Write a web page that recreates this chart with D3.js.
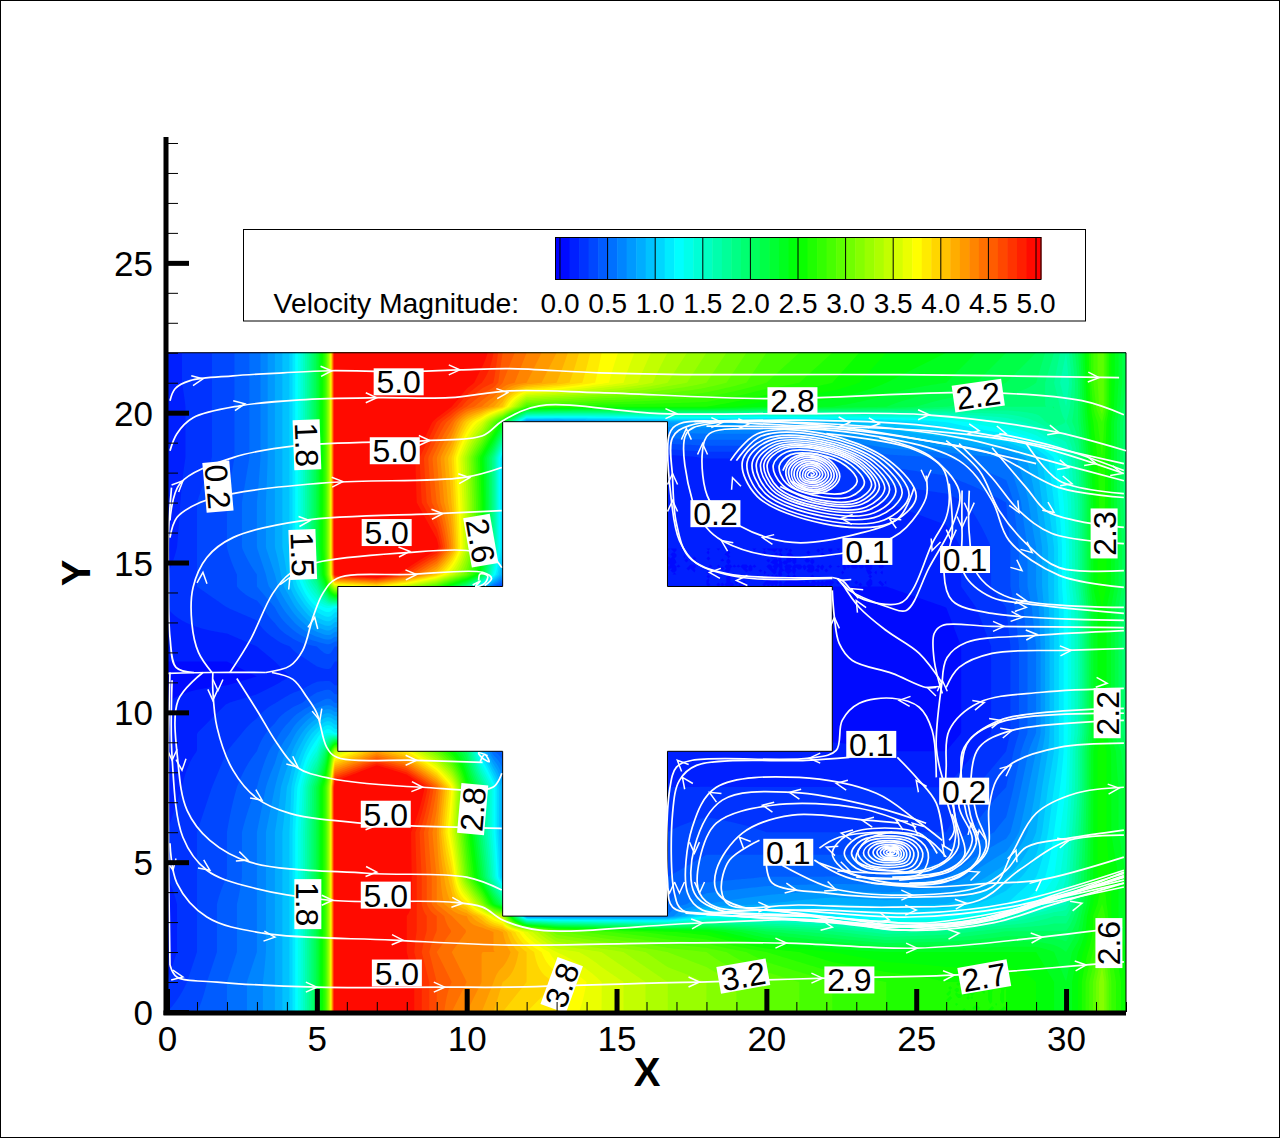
<!DOCTYPE html>
<html><head><meta charset="utf-8">
<script src="https://cdn.jsdelivr.net/npm/d3@7/dist/d3.min.js"></script>
<style>html,body{margin:0;padding:0;background:#fff}svg{display:block}text{font-family:"Liberation Sans",Arial,sans-serif;fill:#000}</style>
</head><body><svg id="c" width="1280" height="1138"></svg>
<script>
// ---------- data (data units: X, Y, velocity magnitude) ----------
const xTicks=[0,5,10,15,20,25,30];
const yTicks=[0,5,10,15,20,25];
const xMinor=d3.range(0,33).filter(v=>v%5);
const yMinor=d3.range(0,30).filter(v=>v%5);
const legendTicks=["0.0","0.5","1.0","1.5","2.0","2.5","3.0","3.5","4.0","4.5","5.0"];
const colorStops=[0,1.25,2.5,3.75,5];
const colorNames=["#0000ff","#00ffff","#00ff00","#ffff00","#ff0000"];
const fieldX=[0,1,2,3,3.6,4.1,4.5,5,5.3,5.45,5.6, 7,8,9,9.5,10,10.5,10.9,11.2, 12,13,14.5, 16.7,18,20,22.2,24,26,28,29,29.6,30,30.4,30.9,31.2,31.5,32];
const fieldY=[0,1,2,2.7,3.2,3.6,4.5,6,7.5,8.7,9.3,10.3,11.2,12.2,13.5,14.2,14.6,15.5,17,18.5,19.7,20.2,21,22];
const speed=[
[.3,.4,.5,.65,.8,1,1.45,2.15,2.8,3.5,5.2, 5.6,5,4.6,4.4,4.3,4.2,4.1,4, 3.9,3.8,3.6, 3.3,3.2,3,2.8,2.7,2.6,2.6,2.5,2.4,2.3,2.5,2.9,3.2,2.8,2.5],
[.2,.35,.5,.65,.8,1,1.45,2.15,2.8,3.5,5.2, 5.5,5,4.6,4.5,4.4,4.3,4.2,4.1, 4,3.9,3.6, 3.3,3.2,3,2.8,2.7,2.6,2.6,2.5,2.4,2.3,2.5,2.9,3.2,2.8,2.5],
[.15,.3,.45,.6,.8,1,1.45,2.15,2.8,3.5,5.2, 5.4,4.9,4.5,4.4,4.3,4.3,4.3,4.3, 4,3.6,3.4, 3.1,3,2.7,2.5,2.4,2.4,2.4,2.4,2.3,2.2,2.4,2.7,3,2.7,2.4],
[.15,.3,.45,.6,.8,1,1.45,2.15,2.8,3.5,5.2, 5.3,4.9,4.6,4.5,4.4,4.4,4.3,4.2, 3.6,3,2.8, 2.6,2.5,2.1,1.9,1.7,1.8,2,2,2,2,2.2,2.6,2.9,2.6,2.3],
[.15,.3,.45,.6,.8,1,1.45,2.15,2.8,3.5,5.2, 5.3,4.9,4.6,4.4,4.3,4,3.6,3.4, .6,.6,.6, .6,1.2,1.3,1.2,1.15,1.2,1.5,1.7,1.8,1.8,2.1,2.6,2.8,2.5,2.3],
[.15,.3,.45,.6,.8,1,1.45,2.15,2.8,3.5,5.2, 5.6,5,4.4,4.2,3.9,3.2,2.4,2, 2,2,.5, .5,.7,.8,.9,.85,.9,1.1,1.3,1.5,1.6,2,2.5,2.7,2.5,2.3],
[.2,.3,.4,.6,.8,1,1.45,2.15,2.8,3.5,5.2, 6,5,4.4,4,3,2.2,1.5,.9, .9,.9,.4, .4,.45,.5,.5,.5,.6,.9,1.1,1.3,1.5,1.9,2.4,2.6,2.5,2.3],
[.2,.3,.4,.6,.8,1,1.45,2.15,2.8,3.5,5.2, 5.7,5,4.3,3.6,2.7,1.9,1.3,.8, .8,.8,.3, .3,.35,.3,.3,.3,.3,.55,.9,1.2,1.4,1.8,2.4,2.6,2.4,2.2],
[.15,.25,.35,.5,.7,.95,1.35,2.15,2.8,3.5,5.2, 6,5.5,4.5,3.8,2.6,1.9,1.3,.8, .8,.8,.2, .2,.2,.2,.2,.2,.2,.4,.8,1.1,1.3,1.7,2.4,2.6,2.4,2.2],
[.15,.2,.3,.4,.55,.75,1,1.4,2,2.6,3.4, 4.2,3.8,3,2.5,2,1,.5,.4, .4,.4,.15, .15,.15,.15,.15,.1,.1,.3,.7,1,1.25,1.7,2.4,2.6,2.4,2.1],
[.15,.2,.25,.35,.45,.6,.8,1.1,1.3,1.3,1.2, 1.2,.05,.05,.05,.05,.05,.05,.05, .05,.05,.05, .05,.05,.05,.05,.05,.05,.25,.6,1,1.25,1.6,2.3,2.5,2.3,1.9],
[.1,.15,.2,.25,.3,.35,.4,.5,.55,.55,.5, .5,.05,.05,.05,.05,.05,.05,.05, .05,.05,.05, .05,.05,.05,.05,.05,.05,.25,.6,1,1.25,1.6,2.3,2.5,2.3,1.9],
[.05,.05,.05,.1,.15,.2,.2,.25,.25,.25,.2, .2,.05,.05,.05,.05,.05,.05,.05, .05,.05,.05, .05,.05,.05,.05,.05,.05,.25,.6,1,1.25,1.6,2.3,2.5,2.3,1.9],
[.15,.15,.15,.2,.25,.3,.35,.4,.45,.45,.4, .4,.05,.05,.05,.05,.05,.05,.05, .05,.05,.05, .05,.05,.05,.05,.05,.05,.25,.6,1,1.25,1.6,2.3,2.5,2.3,1.9],
[.2,.25,.3,.35,.5,.7,.9,1.2,1.3,1.3,1.2, 1.2,.05,.05,.05,.05,.05,.05,.05, .05,.05,.05, .05,.05,.05,.05,.05,.1,.3,.65,1,1.25,1.6,2.3,2.5,2.3,1.9],
[.2,.3,.35,.5,.65,.9,1.2,1.7,2.3,3,3.5, 3.8,3.4,2.8,2.3,1.8,1,.5,.3, .3,.3,.15, .15,.1,.1,.1,.1,.15,.35,.7,1,1.3,1.7,2.4,2.6,2.4,2],
[.2,.3,.35,.5,.7,.95,1.35,2,2.7,3.5,5, 5.3,4.7,4,3.5,3,2.3,1.3,.8, .8,.8,.1, .1,.1,.1,.1,.1,.15,.35,.7,1,1.3,1.7,2.4,2.6,2.4,2],
[.15,.3,.4,.6,.8,1,1.45,2.15,2.8,3.5,5.2, 6,5.6,5,4.3,3.4,2.6,1.8,1, 1,1,.1, .1,.1,.1,.1,.1,.15,.35,.7,1,1.3,1.7,2.4,2.6,2.4,2],
[.12,.3,.4,.6,.8,1,1.45,2.15,2.8,3.5,5.2, 6,5.1,4.5,4.1,3.4,2.6,1.8,1, 1,1,.1, .1,.15,.15,.15,.2,.25,.4,.8,1.1,1.35,1.7,2.4,2.7,2.4,1.9],
[.12,.25,.35,.55,.8,1,1.45,2.15,2.8,3.5,5.2, 6,5.1,4.4,4,3.3,2.5,1.8,1, 1,1,.15, .15,.2,.2,.3,.45,.5,.6,.9,1.2,1.45,1.8,2.5,2.7,2.4,1.9],
[.12,.25,.35,.55,.8,1,1.45,2.15,2.8,3.5,5.2, 6,5.5,4.8,4.5,4,3.6,3,2.5, .6,.6,.7, .8,.8,.8,.9,1,1.2,1.5,1.7,1.9,1.8,2,2.6,2.8,2.4,1.9],
[.12,.25,.35,.55,.8,1,1.45,2.15,2.8,3.5,5.2, 6,6,5.2,4.9,4.6,4.4,4.2,4, 2.8,2.7,2.6, 2.6,2.6,2.4,2.3,2.2,2,1.9,1.9,1.9,1.7,2,2.7,3,2.5,2],
[.15,.25,.35,.55,.8,1,1.45,2.15,2.8,3.5,5.2, 6,6,5.6,5.3,5,4.8,4.7,4.5, 4.3,4.1,3.75, 3.3,3.1,2.8,2.6,2.4,2.3,2.1,2,1.8,1.6,2,2.8,3,2.5,2.1],
[.15,.25,.35,.55,.8,1,1.45,2.15,2.8,3.5,5.2, 6,6,6,5.5,5.2,5,4.8,4.6, 4.4,4.2,3.8, 3.4,3.2,2.9,2.7,2.5,2.4,2.2,2.1,1.9,1.7,2.1,2.8,3,2.5,2.1]
];
const crossOutline=[[5.7,8.7],[11.2,8.7],[11.2,3.2],[16.7,3.2],[16.7,8.7],[22.2,8.7],[22.2,14.2],[16.7,14.2],[16.7,19.7],[11.2,19.7],[11.2,14.2],[5.7,14.2],[5.7,8.7]];
const fieldOutline=[[0,0],[32,0],[32,22],[0,22],[0,0]];
const leftStreams=[
[[.1,20.4],[.27,20.8],[.77,21.07],[2.2,21.23],[3.87,21.33],[5.43,21.4],[7.77,21.37],[9.77,21.43],[11.43,21.47],[14.43,21.33],[17.77,21.27],[24.43,21.27],[31.77,21.17]],
[[.1,18.73],[.33,19.3],[.87,19.83],[2.43,20.23],[4.43,20.43],[7,20.5],[9.43,20.5],[11.43,20.73],[14.43,20.67],[20.1,20.47],[27.2,20.67],[30.53,20.4],[31.93,19.93]],
[[.1,16.4],[.43,17.63],[2.2,18.5],[4.33,18.9],[8.67,19.07],[10.53,19.23],[11.2,19.73],[12.43,20.23],[16.43,19.97],[21.1,19.97],[25.33,19.93],[29.43,19.4],[32,18.73]],
[[.1,15.83],[.33,16.5],[1.1,17],[2.2,17.3],[5.43,17.67],[9.87,17.83],[11.17,18.17]],
[[1.5,11.33],[1.05,12],[.83,12.97],[.87,14.17],[1.33,15.17],[2.2,15.83],[4.53,16.4],[9,16.63],[11.17,16.73]],
[[2.1,11.33],[2.77,12.4],[3.53,13.97],[4.1,14.63],[5,15],[8,15.33],[10,15.4],[10.87,15.17],[11.17,14.83]],
[[3.3,11.33],[4.1,11.55],[4.53,12.07],[4.87,13.17],[5.2,13.97],[5.67,14.47],[8.1,14.6],[10.53,14.67],[10.83,14.47],[10.6,14.23]],
[[.03,11.3],[1.5,11.33],[3.3,11.33]],
[[.1,11.33],[.05,9],[.05,5.5],[.1,1.57]],
[[.9,11.33],[.3,11.5],[.1,12.5],[.05,14.5],[.05,16],[.15,17.5]],
[[3.5,11.33],[4.2,11.1],[4.67,10.5],[5,9.97],[5.33,8.83],[5.67,8.5],[8.33,8.4],[10.53,8.33]],
[[2.33,11.13],[3,10.07],[3.67,8.97],[4.33,8.17],[5.43,7.8],[8.53,7.5],[10.87,7.5],[11.17,7.97]],
[[1.53,11.33],[1.53,10.73],[1.67,9.5],[2.2,8.07],[3,7.13],[4.1,6.63],[6.53,6.3],[11.17,6.13]],
[[1.2,11.33],[.37,10.4],[.37,8.3],[.67,6.73],[1.43,5.73],[2.77,5],[6.67,4.63],[10,4.5],[11.17,4.07]],
[[.17,11.07],[.17,8.5],[.53,5.83],[1.33,4.73],[2.77,4.17],[5.43,3.73],[9.43,3.67],[10.53,3.5],[11.2,3.07],[12.43,2.73],[17.77,2.97],[22,3.07],[24.43,2.73],[27.53,3.13],[29.77,3.83],[31.93,4.5]],
[[.1,5.63],[.33,4.3],[1.33,3.17],[3.2,2.63],[7.53,2.4],[11.43,2.23],[16.43,2.3],[20.67,2.3],[25,2.13],[29.2,2.5],[31.87,2.83]],
[[.1,1.57],[.33,1.17],[1.67,1],[5,.83],[9.2,.83],[11.43,.83],[16.43,.97],[17.77,1],[20,1.07],[22,1.13],[26.2,1.23],[30.67,1.57],[31.93,1.67]],
[[10.2,14.25],[10.45,14.38],[10.3,14.2],[10.6,14.3],[10.7,14.55],[10.45,14.62],[10.4,14.4]],
[[10.45,8.35],[10.6,8.6],[10.75,8.35],[10.5,8.5],[10.4,8.65],[10.7,8.55]]
];
const upperRightStreams=[
[[22.2,14.47],[19.2,14.5],[17.67,14.97],[17.1,15.73],[16.83,17.07],[16.77,19.3],[17.1,19.63],[20.87,19.57],[25.33,19.4],[28.67,18.97],[31.93,17.97]],
[[22.2,14.5],[18.67,14.63],[17.43,15.17],[17,16.3],[16.87,17.83],[16.87,19.17],[17.43,19.57],[22,19.63],[26.43,19.17],[29.77,18.3],[31.93,17.73]],
[[25.33,17.9],[25.33,17.17],[24.67,16.17],[24.2,15.83],[22.5,15.3],[20.1,15.23],[18.53,15.73],[18,16.17],[17.53,17.07],[17.33,19.3],[18.1,19.63],[22,19.57],[25.33,19.07],[27.53,18.63],[29.77,17.5],[31.93,17.17]],
[[24.93,17.5],[24.43,16.5],[23.1,15.97],[20.87,15.67],[19.1,16.23],[18.1,17.07],[17.87,18.73],[18.1,19.3],[19.77,19.47],[23.1,19.3],[26.43,18.4],[27.53,17.07],[28.1,15.73],[29.77,14.57],[31.93,14.17]],
[[17.6,19.7],[21,19.75],[25,19.6],[28,19.15],[31.93,18.3]],
[[18,19.55],[22.5,19.45],[26,18.95],[29,18.3]],
[[26,19.07],[27.1,18.07],[27.77,16.73],[28.67,15.63],[29.77,14.83],[31.93,14.73]],
[[26.43,18.97],[27.53,17.83],[28.43,16.73],[29.53,15.97],[31.93,15.63]],
[[27.53,18.83],[28.67,17.5],[29.33,16.73],[30.33,16.4],[31.93,16.17]],
[[28.67,18.97],[29.77,17.73],[31.93,17.3]],
[[27.77,19.3],[29.77,18.83],[31.93,18.07]],
[[26.77,17.4],[26.77,15.97],[27.03,14.63],[28.1,13.83],[31.93,13.5]],
[[26.53,17.4],[26.53,15.97],[26.6,14.63],[27.53,13.83],[28.67,13.63],[31.93,13.3]],
[[26.1,17.63],[26.2,15.97],[25.93,14.63],[26.2,13.73],[27.53,13.3],[31.93,13.07]],
[[22,19.3],[24.77,18.83],[25.87,18.17],[26.1,17.3],[26,16.5],[25.53,15.63],[24.87,14.07],[24.43,13.63],[23.1,13.83],[22.53,14.4],[22.2,14.5]],
[[23.77,19.17],[25.43,18.57],[26.43,17.4],[26.27,16.4],[25.43,14.83],[24.67,13.4],[24.1,13.5],[22.77,14.07],[22.37,14.47]],
[[25.87,10.97],[25.1,11.97],[24,12.73],[23.1,13.5],[22.53,14.3]],
[[25.67,10.83],[25.33,10.83],[24.2,11.3],[22.87,11.73],[22.43,12.3],[22.27,13.17],[22.2,14.07]],
[[25.87,10.63],[25.6,11.73],[25.6,12.63],[25.87,12.9],[27.53,12.87],[31.93,12.83]],
[[25.87,11.07],[26.03,11.83],[26.67,12.33],[29,12.57],[31.93,12.73]],
[[26,10.83],[26.43,11.5],[27.53,11.97],[30,12.07],[31.93,12.13]]
];
const lowerRightStreams=[
[[24.43,4.4],[26.2,4.73],[27,5.63],[26.67,6.63],[26.5,7.97],[26.6,8.83],[27.77,9.73],[31.93,10.13]],
[[24.2,4.5],[26.2,4.8],[26.87,5.73],[26.43,6.83],[26.5,8.07],[26.77,9.07],[28,9.73],[31.93,9.97]],
[[24.77,4.3],[26.43,4.5],[27.33,5.5],[27,6.63],[26.83,7.83],[27.1,8.83],[28.2,9.4],[31.93,9.73]],
[[21.77,4.97],[24.2,4.3],[26.2,4.5],[27.33,5.3],[27.43,6.83],[27.67,7.73],[28.2,8.3],[29.77,8.83],[31.93,8.97]],
[[26.1,5.73],[26.27,6.07],[26,7.17],[26,8.17],[26.1,9.4],[27.1,10.33],[29.2,10.67],[31.93,10.8]],
[[25.87,11.07],[25.67,8.83],[25.87,7.83],[26.2,6.97],[26.33,6.07],[26.1,5.17],[25.2,4.73],[24,4.73],[23,5.07],[23.33,5.73],[24.2,6]],
[[23,4.5],[25.5,4.55],[26.6,5.2],[26.3,6.5],[26.2,7.5]],
[[22.5,4.7],[25.5,4.75],[26.4,5.5],[26.2,6.6]],
[[23.5,4.3],[26,4.35],[27.1,5.2],[26.8,6.6],[26.65,7.4]],
[[17.3,3.3],[22,3],[25,2.72],[27.6,2.98],[29.6,3.6],[31.93,4.3]],
[[18,3.25],[22,3.05],[25,2.85],[27.6,3.1],[29.6,3.75],[31.93,4.55]],
[[19,3.2],[23,2.95],[25.3,2.9],[27.6,3.2],[29.6,3.9],[31.93,4.62]],
[[25.67,7.83],[25.53,9.4],[25.1,10.17],[24.2,10.47],[23.1,10.3],[22.53,9.73],[22.33,8.73],[21.43,8.47],[17.53,8.4],[17,8.17],[16.77,7.4],[16.7,4.4],[16.87,3.5],[17.77,3.3],[20,3.4],[24.2,2.83],[27.77,3.23],[29.77,3.83],[31.93,4.67]],
[[22.77,8.5],[21.33,8.4],[17.67,8.23],[17.1,7.73],[16.87,6.63],[16.93,3.97],[17.2,3.4],[19.2,3.3],[22,3.17],[25.33,2.8],[27.53,3.07],[29.33,3.73],[31.93,4.4]],
[[25.87,5.73],[25,6.4],[23.67,7.3],[21.1,7.83],[18.33,7.5],[17.53,6.17],[17.37,3.97],[17.87,3.4],[20,3.4],[23.1,3.07],[26.43,2.97],[29,3.63],[31.93,4.3]],
[[25.33,6.3],[23.67,6.83],[20.87,7.33],[18.53,7.07],[17.6,5.5],[17.6,3.97],[18.43,3.4],[22,3.17],[25.33,2.97],[28.67,3.5],[31.93,4.17]],
[[25,6.17],[23.1,6.8],[20.2,6.9],[18.33,6.3],[17.77,5.07],[17.77,3.97],[18.33,3.5],[20.87,3.4],[24.77,3.17],[28.1,3.5],[31.93,4.5]],
[[24.43,6.3],[23.33,6.4],[20.87,6.57],[19.2,5.97],[18.33,4.73],[18.37,3.97],[19.2,3.5],[22,3.4],[25.1,3.3],[28.1,3.63],[31.93,4.73]],
[[25.93,5.5],[25.67,6.97],[25,7.83],[24.37,8.5]],
[[20,4.9],[20.2,4.3],[22,3.97],[24.77,3.83],[27.53,4.17],[28.2,5.3],[29,6.63],[30.33,7.3],[31.93,7.5]],
[[20.53,4.9],[22.2,4.13],[24.87,3.9],[27.1,4.17],[28,4.73],[28.67,5.5],[30.1,5.8],[31.93,6.07]],
[[21.6,5.07],[22.67,4.5],[25.1,4.17],[27.53,4.3],[29.1,4.4],[31.93,5.17]],
[[19.77,5.73],[18.77,5.07],[18.5,4.07],[18.77,3.57],[21.1,3.57],[24.2,3.5],[27.1,3.73],[28.43,4.73],[30.1,5.73],[31.93,5.9]],
[[21.77,5.47],[22.43,5.83],[24.2,6],[25.33,5.8],[26,5.17]]
];
const upperVortex=[[18.8,18.4],[19.7,19.3],[21.9,19.3],[24.1,18.4],[25,17.2],[24.1,16.3],[21.9,16.3],[19.7,17.2],
[19.2,18.37],[19.97,19.13],[21.86,19.13],[23.75,18.38],[24.53,17.31],[23.75,16.55],[21.86,16.55],[19.97,17.3],
[19.53,18.34],[20.19,18.99],[21.82,18.99],[23.45,18.34],[24.11,17.42],[23.45,16.77],[21.82,16.77],[20.19,17.42],
[19.81,18.31],[20.38,18.87],[21.79,18.87],[23.2,18.31],[23.77,17.51],[23.2,16.95],[21.79,16.95],[20.38,17.51],
[20.03,18.28],[20.54,18.77],[21.77,18.77],[23,18.28],[23.51,17.58],[23,17.09],[21.77,17.09],[20.54,17.58],
[20.23,18.25],[20.67,18.69],[21.75,18.69],[22.83,18.26],[23.27,17.65],[22.83,17.21],[21.75,17.21],[20.67,17.64],
[20.43,18.23],[20.81,18.6],[21.73,18.6],[22.65,18.23],[23.03,17.71],[22.65,17.34],[21.73,17.34],[20.81,17.71]];
const upperVortexMid=[[19,18.4],[19.83,19.22],[21.88,19.22],[23.93,18.4],[24.76,17.24],[23.93,16.42],[21.88,16.42],[19.83,17.24],
[19.36,18.36],[20.08,19.06],[21.84,19.06],[23.6,18.36],[24.32,17.36],[23.6,16.66],[21.84,16.66],[20.08,17.36],
[19.67,18.32],[20.29,18.93],[21.81,18.93],[23.33,18.32],[23.95,17.46],[23.33,16.85],[21.81,16.85],[20.29,17.46],
[19.92,18.29],[20.46,18.82],[21.78,18.82],[23.1,18.3],[23.64,17.55],[23.1,17.02],[21.78,17.02],[20.46,17.54]];
const upperVortexCore=[[20.55,18.07],[20.83,18.47],[21.5,18.64],[22.17,18.37],[22.45,17.87],[22.17,17.47],[21.5,17.3],[20.83,17.57],
[20.65,18.06],[20.9,18.42],[21.5,18.57],[22.1,18.33],[22.36,17.88],[22.1,17.52],[21.5,17.37],[20.9,17.61],
[20.74,18.05],[20.96,18.37],[21.5,18.51],[22.04,18.29],[22.26,17.89],[22.04,17.57],[21.5,17.43],[20.96,17.65],
[20.84,18.04],[21.03,18.32],[21.5,18.44],[21.97,18.25],[22.17,17.9],[21.97,17.62],[21.5,17.5],[21.03,17.69],
[20.93,18.03],[21.1,18.27],[21.5,18.37],[21.9,18.21],[22.07,17.91],[21.9,17.67],[21.5,17.57],[21.1,17.73],
[21.03,18.02],[21.17,18.22],[21.5,18.31],[21.83,18.17],[21.98,17.92],[21.83,17.72],[21.5,17.64],[21.17,17.77],
[21.12,18.01],[21.23,18.17],[21.5,18.24],[21.77,18.13],[21.88,17.93],[21.77,17.77],[21.5,17.7],[21.23,17.81],
[21.22,18],[21.3,18.12],[21.5,18.17],[21.7,18.09],[21.79,17.94],[21.7,17.82],[21.5,17.77],[21.3,17.85],
[21.31,17.99],[21.37,18.07],[21.5,18.1],[21.63,18.05],[21.69,17.95],[21.63,17.87],[21.5,17.84],[21.37,17.89],
[21.4,17.98],[21.5,18.04],[21.6,17.96],[21.5,17.9],[21.5,17.97]];
const lowerVortex=[[25.7,5.29],[25.2,5.91],[23.95,6.14],[22.7,5.91],[22.2,5.29],[22.7,4.67],[23.95,4.44],[25.2,4.67],
[25.4,5.3],[25,5.8],[24,5.98],[23,5.8],[22.6,5.3],[23,4.8],[24,4.62],[25,4.8],
[25.22,5.3],[24.88,5.73],[24.03,5.88],[23.18,5.73],[22.84,5.3],[23.18,4.87],[24.03,4.72],[24.88,4.87],
[25.07,5.31],[24.78,5.67],[24.06,5.8],[23.34,5.67],[23.05,5.31],[23.34,4.95],[24.06,4.82],[24.78,4.95],
[24.92,5.31],[24.68,5.61],[24.08,5.72],[23.48,5.61],[23.24,5.31],[23.48,5.01],[24.08,4.9],[24.68,5.01],
[24.8,5.32],[24.6,5.57],[24.1,5.66],[23.6,5.57],[23.4,5.32],[23.6,5.07],[24.1,4.98],[24.6,5.07],
[24.68,5.32],[24.52,5.52],[24.12,5.59],[23.72,5.52],[23.56,5.32],[23.72,5.12],[24.12,5.05],[24.52,5.12],
[24.59,5.32],[24.46,5.48],[24.14,5.54],[23.82,5.48],[23.69,5.32],[23.82,5.16],[24.14,5.1],[24.46,5.16],
[24.5,5.32],[24.4,5.45],[24.15,5.49],[23.9,5.45],[23.8,5.32],[23.9,5.19],[24.15,5.15],[24.4,5.19],
[24.41,5.33],[24.34,5.42],[24.16,5.45],[23.98,5.42],[23.91,5.33],[23.98,5.24],[24.16,5.21],[24.34,5.24],
[24.35,5.33],[24.18,5.41],[24,5.33],[24.18,5.25],[24.28,5.33],[24.2,5.38],[24.12,5.33],[24.2,5.28],[24.2,5.33]];
// arrow heads: x, y, heading in degrees (0 = +X, 90 = +Y)
const arrows=[[1.2,21.13,10],[2.6,20.3,10],[5.5,21.4,3],[9.77,21.43,0],[7,20.5,0],[11.37,20.67,5],[.53,17.73,45],[5.87,17.7,3],[10.1,17.83,5],[8.77,19.07,0],[4.77,16.4,5],[9.2,16.63,3],[8.1,15.37,3],[8.33,14.6,2],[1.2,14.67,85],[4.1,14.5,60],[4.93,13.17,80],
[8.33,8.4,0],[8.53,7.5,-3],[5.1,9.73,-75],[4.37,8.17,-40],[1.53,10.4,-90],[1.7,10.73,-90],[3.17,7.07,-35],[2.7,5.07,-20],[7,4.67,-3],[1.43,4.73,-35],[5.53,3.73,0],[9.87,3.63,-5],[3.6,2.5,-5],[7.87,2.4,-2],[.53,1.17,-10],[5,.83,0],[9.27,.83,0],[.17,8.4,-90],[.5,8.07,-85],[.2,4.73,-80],[7,6.23,-3],
[17,19.97,0],[25.43,19.93,0],[18.53,19.67,0],[19.43,19.63,0],[22.77,19.67,-3],[23.77,19.63,-5],[27.1,19.4,-10],[28,19.3,-15],[29.77,19.33,-15],[30.1,18.17,-15],[31,18.3,-15],[31.87,17.97,-15],[30.2,17.63,-15],[28.43,16.67,-60],[29.6,16.67,-35],[28.87,15.33,-40],[28.53,14.73,-40],[28.67,13.73,-10],[28.67,13.5,-5],[28.53,13.17,-5],[27.93,12.87,0],[29.03,12.6,3],[30.17,12.07,3],[17.33,19.47,90],[17.87,18.97,90],[18.87,17.83,110],[16.87,17.97,90],[16.87,17.07,90],[19.87,15.83,170],[22.5,16.47,175],[24.1,16.47,150],[18.5,15.73,145],[18.1,14.67,175],[19,14.4,180],[22.43,14.4,160],[22.83,14.13,150],[23,13.73,120],[22.27,13.17,90],[25.37,10.83,160],[25.33,17.73,-90],[26.53,16.17,-90],[26.77,16.63,-90],[26.17,15.73,-90],[25.53,15.4,-110],[25.87,11.07,90],
[24.43,10.4,175],[21.43,8.47,180],[17.03,8.4,135],[17.2,7.83,125],[18.1,7.33,150],[20.77,7.33,170],[22.33,7.63,170],[19.87,6.9,170],[19.1,5.83,135],[23.2,6.4,170],[24.33,6.4,150],[24.87,6.3,140],[17.6,5.3,-90],[17.1,3.97,-90],[16.77,3.97,-90],[17.77,3.97,-90],[22,5.5,160],[22.5,5.97,170],[22.77,4.73,-20],[21,4.07,-10],[22.33,4.07,-20],[24.87,3.9,0],[20.1,3.5,0],[25,3.4,0],[24.1,3.07,-15],[22.2,2.83,-10],[17.87,2.97,5],[20.67,2.3,0],[25.03,2.13,0],[26.43,2.63,5],[29.2,2.5,5],[17.77,1,0],[21.87,1.13,0],[26.27,1.23,3],[30.67,1.57,5],[26.67,3.63,5],[27.1,4.67,20],[28.33,5.4,70],[29.17,4.4,40],[30.1,5.73,15],[30.53,3.63,15],[31.77,7.47,5],[28.17,8.23,40],[27.27,10.33,15],[27.83,9.73,15],[28.2,9.4,15],[31.37,10.97,-5],[25,7.73,125],[25.87,5.57,125],[27.1,6.07,100],[26.83,6.3,100],[31.1,21.17,-3]];
const labelText=["5.0","5.0","5.0","5.0","5.0","5.0","1.8","1.5","0.2","2.6","1.8","2.8","2.8","2.2","3.8","3.2","2.9","2.7","2.6","2.3","2.2","0.2","0.1","0.1","0.1","0.2","0.1"];
const labelX=[7.73,7.6,7.33,7.3,7.3,7.67,4.67,4.53,1.7,10.47,4.7,10.2,20.87,27.07,13.17,19.23,22.77,27.27,31.43,31.27,31.37,18.3,23.37,26.63,23.5,26.6,20.73];
const labelY=[21.03,18.73,16,6.6,3.9,1.3,18.93,15.27,17.53,15.73,3.6,6.77,20.4,20.57,.9,1.2,1.07,1.17,2.3,15.97,9.97,16.63,15.37,15.1,8.93,7.37,5.33];
const labelAngle=[0,0,0,0,0,0,88,88,85,80,90,-85,0,-8,-70,-10,0,-10,-90,-90,-90,0,0,0,0,0,0];

// ---------- scales ----------
const x=d3.scaleLinear([0,32],[167,1126]);
const y=d3.scaleLinear([0,29.2],[1012,137]);
const color=d3.scaleLinear(colorStops,colorNames).clamp(true);
const legendX=d3.scaleLinear([0,5],[560,1036]);
const svg=d3.select("#c");

// ---------- outer frame ----------
svg.append("rect").attr("x",.5).attr("y",.5).attr("width",1279).attr("height",1137).attr("fill","#fff").attr("stroke","#000");

// ---------- flood contours ----------
function sampleField(px,py){
  const i=Math.min(fieldX.length-2,Math.max(0,d3.bisectRight(fieldX,px)-1));
  const j=Math.min(fieldY.length-2,Math.max(0,d3.bisectRight(fieldY,py)-1));
  const tx=(px-fieldX[i])/(fieldX[i+1]-fieldX[i]),ty=(py-fieldY[j])/(fieldY[j+1]-fieldY[j]);
  const a=speed[j][i],b=speed[j][i+1],c=speed[j+1][i],d=speed[j+1][i+1];
  return a*(1-tx)*(1-ty)+b*tx*(1-ty)+c*(1-tx)*ty+d*tx*ty;
}
const nx=481,ny=331,gridDx=32/(nx-1),gridDy=22/(ny-1);
const grid=new Float64Array(nx*ny);
for(let j=0;j<ny;j++)for(let i=0;i<nx;i++)grid[j*nx+i]=sampleField(i*gridDx,j*gridDy);
const levels=d3.range(1,50).map(k=>k/10);
const contours=d3.contours().size([nx,ny]).thresholds(levels)(grid);
const geo=d3.geoPath(d3.geoTransform({point(a,b){this.stream.point(x((a-.5)*gridDx),y((b-.5)*gridDy));}}));
svg.append("clipPath").attr("id","fieldClip").append("rect")
  .attr("x",x(0)).attr("y",y(22)).attr("width",x(32)-x(0)).attr("height",y(0)-y(22));
const outline=d3.line().x(d=>x(d[0])).y(d=>y(d[1]));
const flood=svg.append("g").attr("clip-path","url(#fieldClip)");
flood.append("path").attr("d",outline(fieldOutline)).attr("fill",color(.05));
flood.selectAll("path.band").data(contours).join("path").attr("class","band")
  .attr("d",geo).attr("fill",d=>color(d.value+.05));
svg.append("path").attr("d",outline(fieldOutline)).attr("fill","none").attr("stroke","#000");
svg.append("path").attr("d",outline(crossOutline)).attr("fill","#fff").attr("stroke","#000");

// ---------- streamlines ----------
const curve=d3.line().x(d=>x(d[0])).y(d=>y(d[1])).curve(d3.curveCatmullRom.alpha(.5));
const streams=[...leftStreams,...upperRightStreams,...lowerRightStreams,upperVortex,upperVortexMid,upperVortexCore,lowerVortex];
svg.append("g").attr("fill","none").attr("stroke","#fff").attr("stroke-width",1.7)
  .selectAll("path").data(streams).join("path").attr("d",curve);
svg.append("g").attr("fill","none").attr("stroke","#fff").attr("stroke-width",1.5)
  .selectAll("path").data(arrows).join("path")
  .attr("transform",d=>`translate(${x(d[0])},${y(d[1])}) rotate(${-d[2]})`)
  .attr("d","M-11,-5L0,0L-11,5");

// ---------- contour labels ----------
const lab=svg.append("g").selectAll("g").data(labelText).join("g")
  .attr("transform",(d,i)=>`translate(${x(labelX[i])},${y(labelY[i])}) rotate(${labelAngle[i]})`);
lab.append("rect").attr("x",-25).attr("y",-13.5).attr("width",50).attr("height",27).attr("fill","#fff");
lab.append("text").text(d=>d).attr("text-anchor","middle").attr("y",11.5).attr("font-size",32);

// ---------- axes ----------
function styleAxis(g,majorW){
  g.select(".domain").remove();
  g.selectAll("line").attr("stroke","#000").attr("stroke-width",majorW);
}
const xAxisG=svg.append("g").attr("transform",`translate(0,${y(0)})`);
xAxisG.append("g").call(d3.axisBottom(x).tickValues(xMinor).tickSize(-10).tickFormat("")).call(styleAxis,1);
const xMaj=xAxisG.append("g").call(d3.axisBottom(x).tickValues(xTicks).tickSize(-23).tickPadding(14).tickFormat(d3.format("d"))).call(styleAxis,5);
xMaj.selectAll("text").attr("font-size",35).attr("font-family",'"Liberation Sans"').attr("fill","#000").attr("dy","0.72em");
const yAxisG=svg.append("g").attr("transform",`translate(${x(0)},0)`);
yAxisG.append("g").call(d3.axisLeft(y).tickValues(yMinor).tickSize(-11).tickFormat("")).call(styleAxis,1);
const yMaj=yAxisG.append("g").call(d3.axisLeft(y).tickValues(yTicks).tickSize(-22).tickPadding(14).tickFormat(d3.format("d"))).call(styleAxis,5);
yMaj.selectAll("text").attr("font-size",35).attr("font-family",'"Liberation Sans"').attr("fill","#000").attr("dy","0.36em");
svg.append("line").attr("x1",x(0)-1).attr("x2",x(0)-1).attr("y1",y(29.2)).attr("y2",y(0)+3).attr("stroke","#000").attr("stroke-width",5);
svg.append("line").attr("x1",x(0)-3.5).attr("x2",x(32)).attr("y1",y(0)+1).attr("y2",y(0)+1).attr("stroke","#000").attr("stroke-width",5);
svg.append("text").text("X").attr("x",647).attr("y",1086).attr("text-anchor","middle").attr("font-size",40).attr("font-weight","bold");
svg.append("text").text("Y").attr("transform","translate(90,573) rotate(-90)").attr("text-anchor","middle").attr("font-size",40).attr("font-weight","bold");

// ---------- legend ----------
const lg=svg.append("g");
lg.append("rect").attr("x",243.5).attr("y",229.5).attr("width",842).attr("height",91.5).attr("fill","#fff").attr("stroke","#000");
const bands=d3.range(-1,51).map(k=>k/10);
lg.selectAll("rect.b").data(bands).join("rect").attr("class","b")
  .attr("x",d=>Math.max(555,legendX(d))).attr("y",237)
  .attr("width",d=>Math.min(1041,legendX(d+.1))-Math.max(555,legendX(d))+.5).attr("height",42)
  .attr("fill",d=>color(d+.05));
lg.append("rect").attr("x",555.5).attr("y",237.5).attr("width",485.5).attr("height",42).attr("fill","none").attr("stroke","#000");
lg.selectAll("line").data(legendTicks).join("line")
  .attr("x1",d=>legendX(+d)).attr("x2",d=>legendX(+d)).attr("y1",237).attr("y2",279).attr("stroke","#000");
lg.selectAll("text.t").data(legendTicks).join("text").attr("class","t").text(d=>d)
  .attr("x",d=>legendX(+d)).attr("y",313).attr("text-anchor","middle").attr("font-size",28);
lg.append("text").text("Velocity Magnitude:").attr("x",519).attr("y",313).attr("text-anchor","end").attr("font-size",28.3);
</script></body></html>
